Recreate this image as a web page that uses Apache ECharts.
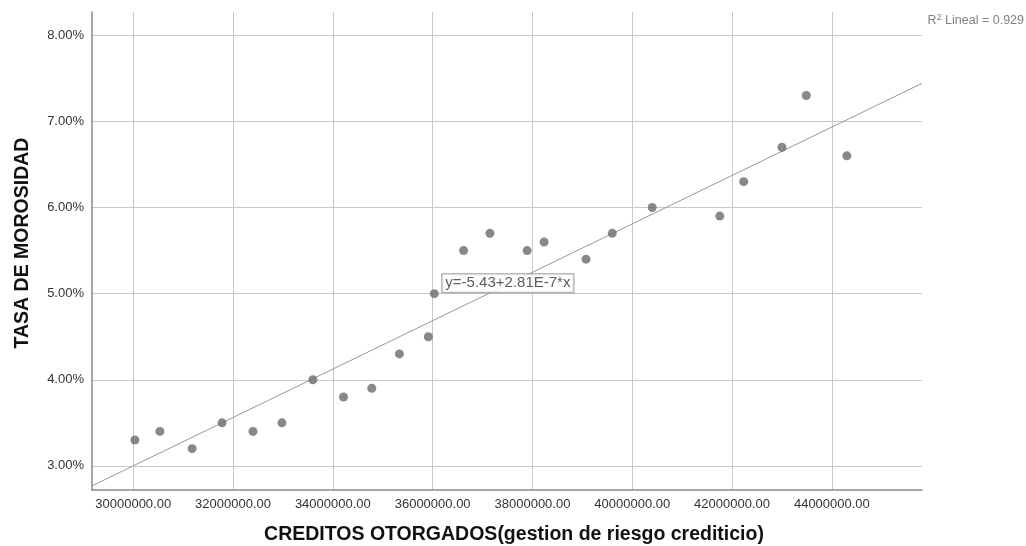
<!DOCTYPE html>
<html>
<head>
<meta charset="utf-8">
<script src="https://cdn.jsdelivr.net/npm/echarts@6/dist/echarts.min.js"></script>
<style>
html,body{margin:0;padding:0;background:#fff;overflow:hidden;}
#main{width:1026px;height:546px;}
</style>
</head>
<body>
<div id="main"></div>
<script>
// Data
const creditos = [30034000, 30534000, 31180000, 31780000, 32400000, 32980000, 33600000, 34214000,
  34780000, 35334000, 35914000, 36034000, 36620000, 37148000, 37894000, 38234000, 39074000,
  39600000, 40400000, 41754000, 42234000, 43000000, 43488000, 44300000];
const morosidad = [3.3, 3.4, 3.2, 3.5, 3.4, 3.5, 4.0, 3.8,
  3.9, 4.3, 4.5, 5.0, 5.5, 5.7, 5.5, 5.6, 5.4,
  5.7, 6.0, 5.9, 6.3, 6.7, 7.3, 6.6];
const xTicks = [30000000, 32000000, 34000000, 36000000, 38000000, 40000000, 42000000, 44000000];
const yTicks = [3, 4, 5, 6, 7, 8];
const xRange = [29174000, 45806000];
const yRange = [2.72, 8.27];
const fitIntercept = -5.43;
const fitSlope = 2.81e-7;
const fitLabel = 'y=-5.43+2.81E-7*x';
const fitLabelAnchor = [36194000, 5.12];
const r2Text = '0.929';

const points = creditos.map((c, i) => [c, morosidad[i]]);
const fitLine = xRange.map(x => [x, fitIntercept + fitSlope * x]);

const font = 'Liberation Sans, Arial, sans-serif';
const chart = echarts.init(document.getElementById('main'), null, {renderer: 'canvas', width: 1026, height: 546});
chart.setOption({
  animation: false,
  backgroundColor: '#fff',
  grid: {left: 92, right: 104, top: 12, bottom: 56, containLabel: false, outerBoundsMode: 'none'},
  xAxis: {
    type: 'value', min: xRange[0], max: xRange[1],
    name: 'CREDITOS OTORGADOS(gestion de riesgo crediticio)',
    nameLocation: 'middle', nameGap: 35,
    nameTextStyle: {fontFamily: font, fontSize: 19.5, fontWeight: 'bold', color: '#111', padding: [0, 0, 0, 14]},
    axisLine: {show: true, onZero: false, lineStyle: {color: '#8a8a8a', width: 1.5}},
    axisTick: {show: false, customValues: xTicks},
    axisLabel: {customValues: xTicks, formatter: v => v.toFixed(2), fontFamily: font, fontSize: 13, color: '#333', margin: 8},
    splitLine: {show: true, lineStyle: {color: '#c8c8c8', width: 1}}
  },
  yAxis: {
    type: 'value', min: yRange[0], max: yRange[1],
    name: 'TASA DE MOROSIDAD',
    nameLocation: 'middle', nameGap: 59,
    nameTextStyle: {fontFamily: font, fontSize: 19.5, fontWeight: 'bold', color: '#111', padding: [0, 0, 0, 16]},
    axisLine: {show: true, onZero: false, lineStyle: {color: '#8a8a8a', width: 1.5}},
    axisTick: {show: false, customValues: yTicks},
    axisLabel: {customValues: yTicks, formatter: v => v.toFixed(2) + '%', fontFamily: font, fontSize: 13, color: '#333', margin: 8},
    splitLine: {show: true, lineStyle: {color: '#c8c8c8', width: 1}}
  },
  graphic: [{
    type: 'text', right: 2, top: 13,
    style: {
      text: 'R{sup|2} Lineal = ' + r2Text,
      fill: '#808080', font: '12.5px ' + font,
      rich: {sup: {fontSize: 9, verticalAlign: 'top', padding: [0, 0, 6, 0], fill: '#808080'}}
    }
  }],
  series: [
    {
      type: 'line', data: fitLine, showSymbol: false, symbol: 'none',
      lineStyle: {color: '#999', width: 1}, silent: true, z: 2
    },
    {
      type: 'scatter', data: points, symbolSize: 9,
      itemStyle: {color: '#6a6a6a'}, z: 3
    },
    {
      type: 'scatter', data: [fitLabelAnchor], symbolSize: 0, z: 4,
      label: {
        show: true, position: 'right', distance: 0,
        formatter: fitLabel,
        fontFamily: font, fontSize: 15, color: '#333',
        backgroundColor: '#fff', borderColor: '#888', borderWidth: 1,
        padding: [2, 3, 1, 3]
      }
    }
  ]
});
</script>
</body>
</html>
